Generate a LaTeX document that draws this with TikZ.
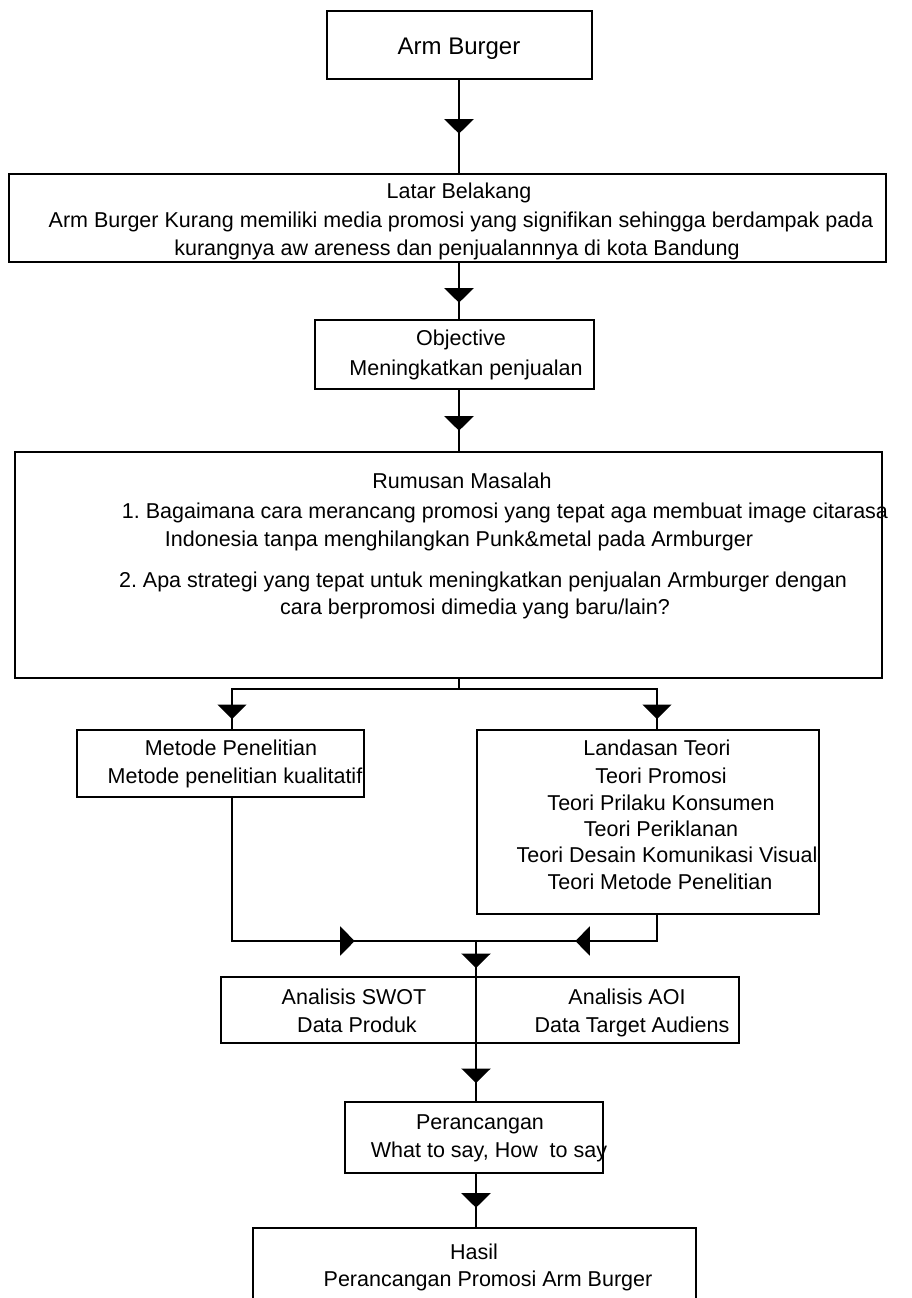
\documentclass[tikz,border=0pt]{standalone}
\usepackage{fontspec}
\setmainfont{Liberation Sans}
\usetikzlibrary{arrows.meta,decorations.markings}
\frenchspacing

\tikzset{
  box/.style={draw, line width=1.4pt, inner sep=0pt},
  txt/.style={inner sep=0pt, text height=15pt, text depth=0pt, font=\fontsize{21.5}{26}\selectfont},
  trunk/.style={line width=2.4pt},
  branch/.style={line width=1.4pt},
  tipat/.style={postaction={decorate}, decoration={markings, mark=at position #1 with {\arrow{Triangle[width=29pt,length=14.5pt]}}}},
}

\begin{document}
\begin{tikzpicture}[x=1pt, y=-1pt]
    \useasboundingbox (0,0) rectangle (912,1298);
    \clip (0,0) rectangle (912,1298);

    % boxes
    \node[box, minimum width=265pt, minimum height=68pt] (burger) at (459.5,45) {};
    \node[box, minimum width=877pt, minimum height=88pt] (latar) at (447.5,218) {};
    \node[box, minimum width=279pt, minimum height=69pt] (objective) at (454.5,354.5) {};
    \node[box, minimum width=867pt, minimum height=226pt] (rumusan) at (448.5,565) {};
    \node[box, minimum width=287pt, minimum height=67pt] (metode) at (220.5,763.5) {};
    \node[box, minimum width=342pt, minimum height=184pt] (landasan) at (648,822) {};
    \node[box, minimum width=518pt, minimum height=66pt] (analisis) at (480,1010) {};
    \node[box, minimum width=258pt, minimum height=71pt] (perancangan) at (474,1137.5) {};
    \node[box, minimum width=443pt, minimum height=102pt] (hasil) at (474.5,1279) {};

    % texts
    \node[txt, font=\fontsize{24}{28}\selectfont, text height=17pt] (burger-t) at (459,46) {Arm Burger};

    \node[txt] (latar-t) at (459,191) {Latar Belakang};
    \node[txt] (latar-a) at (461,220) {Arm Burger Kurang memiliki media promosi yang signifikan sehingga berdampak pada};
    \node[txt] (latar-b) at (457,248) {kurangnya aw areness dan penjualannnya di kota Bandung};

    \node[txt] (objective-t) at (461,338) {Objective};
    \node[txt] (objective-a) at (466,368) {Meningkatkan penjualan};

    \node[txt] (rumusan-t) at (462,481) {Rumusan Masalah};
    \node[txt] (rumusan-a) at (505,511) {1. Bagaimana cara merancang promosi yang tepat aga membuat image citarasa};
    \node[txt] (rumusan-b) at (459,539) {Indonesia tanpa menghilangkan Punk\&metal pada Armburger};
    \node[txt] (rumusan-c) at (483,580) {2. Apa strategi yang tepat untuk meningkatkan penjualan Armburger dengan};
    \node[txt] (rumusan-d) at (475,607) {cara berpromosi dimedia yang baru/lain?};

    \node[txt] (metode-t) at (231,748) {Metode Penelitian};
    \node[txt] (metode-a) at (235,776) {Metode penelitian kualitatif};

    \node[txt] (landasan-t) at (657,748) {Landasan Teori};
    \node[txt] (landasan-a) at (661,776) {Teori Promosi};
    \node[txt] (landasan-b) at (661,803) {Teori Prilaku Konsumen};
    \node[txt] (landasan-c) at (661,829) {Teori Periklanan};
    \node[txt] (landasan-d) at (667,855) {Teori Desain Komunikasi Visual};
    \node[txt] (landasan-e) at (660,882) {Teori Metode Penelitian};

    \node[txt] (swot-t) at (354,997) {Analisis SWOT};
    \node[txt] (swot-a) at (357,1025) {Data Produk};
    \node[txt] (aoi-t) at (627,997) {Analisis AOI};
    \node[txt] (aoi-a) at (632,1025) {Data Target Audiens};

    \node[txt] (perancangan-t) at (480,1122) {Perancangan};
    \node[txt] (perancangan-a) at (489,1150) {What to say, How\ \ to say};

    \node[txt] (hasil-t) at (474,1252) {Hasil};
    \node[txt] (hasil-a) at (488,1279) {Perancangan Promosi Arm Burger};

    % connectors
    \coordinate (fork) at (459,689);
    \coordinate (lfork) at (232,689);
    \coordinate (rfork) at (657,689);
    \coordinate (join) at (476,941);
    \coordinate (ljoin) at (232,941);
    \coordinate (rjoin) at (657,941);

    \draw[trunk, tipat=54pt] (burger.south -| fork) -- (latar.north -| fork);
    \draw[trunk, tipat=40pt] (latar.south -| fork) -- (objective.north -| fork);
    \draw[trunk, tipat=41pt] (objective.south -| fork) -- (rumusan.north -| fork);
    \draw[trunk] (rumusan.south -| fork) -- (fork);
    \draw[branch, tipat=257pt] (fork) -- (lfork) -- (lfork |- metode.north);
    \draw[branch, tipat=228pt] (fork) -- (rfork) -- (rfork |- landasan.north);
    \draw[branch, tipat=266pt] (lfork |- metode.south) -- (ljoin) -- (join);
    \draw[branch, tipat=108pt] (rfork |- landasan.south) -- (rjoin) -- (join);
    \draw[trunk, postaction={decorate}, decoration={markings,
        mark=at position 27pt with {\arrow{Triangle[width=29pt,length=14.5pt]}},
        mark=at position 142pt with {\arrow{Triangle[width=29pt,length=14.5pt]}}}]
        (join) -- (join |- perancangan.north);
    \draw[trunk, tipat=34pt] (join |- perancangan.south) -- (join |- hasil.north);
\end{tikzpicture}
\end{document}
